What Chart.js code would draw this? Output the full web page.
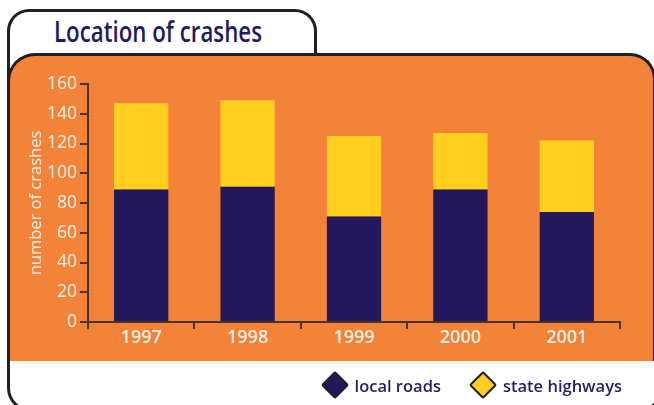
<!DOCTYPE html>
<html>
<head>
<meta charset="utf-8">
<title>Location of crashes</title>
<script src="https://cdn.jsdelivr.net/npm/chart.js@4/dist/chart.umd.min.js"></script>
<style>
html, body { margin: 0; padding: 0; }
body { width: 654px; height: 405px; overflow: hidden; position: relative; background: #fff; font-family: "Open Sans", sans-serif; }
#frame { position: absolute; left: 7px; top: 40px; width: 656px; height: 372px; box-sizing: border-box; border: 3px solid #231f20; border-top: none; border-radius: 0 0 24px 24px; }
#tab { position: absolute; left: 7px; top: 9px; width: 310px; height: 60px; box-sizing: border-box; border: 3px solid #231f20; border-bottom: none; border-radius: 22px 22px 0 0; background: #fff; }
#title { position: absolute; left: 44px; top: 5px; font-size: 28px; line-height: 28px; font-weight: 600; color: #241b5e; white-space: nowrap; transform-origin: 0 0; }
#panel { position: absolute; left: 7px; top: 53px; width: 649px; height: 308px; box-sizing: border-box; background: #f4833a; border: 3px solid #231f20; border-bottom: none; border-radius: 28px 26px 0 0; }
#chartCrashes { position: absolute; left: 0; top: 0; }
#legend { position: absolute; right: 32px; top: 371px; display: flex; align-items: center; }
.legend-item { display: flex; align-items: center; height: 28px; }
.legend-item + .legend-item { margin-left: 28px; }
.legend-mark { width: 28px; height: 28px; position: relative; }
.legend-mark span { position: absolute; left: 4px; top: 4px; width: 20px; height: 20px; box-sizing: border-box; border: 2.5px solid #231f20; border-radius: 2px; transform: rotate(45deg); }
.legend-text { margin-left: 6px; font-size: 16.5px; font-weight: 600; color: #261d62; white-space: nowrap; }
</style>
</head>
<body>
<div id="frame"></div>
<div id="tab"><span id="title">Location of crashes</span></div>
<div id="panel"></div>
<canvas id="chartCrashes" width="654" height="405"></canvas>
<div id="legend"></div>
<script>
var years = ["1997", "1998", "1999", "2000", "2001"];
var localRoads = [89, 91, 71, 89, 74];
var stateHighways = [58, 58, 54, 38, 48];
var seriesNames = ["local roads", "state highways"];
var seriesColors = ["#22185b", "#fecf1f"];
var yMax = 160;
var yStep = 20;

var axisColor = "#4a3328";
var labelColor = "#fdf1e8";

// squeeze the title to the width it has in the print
function fitTitle() {
    var t = document.getElementById("title");
    var w = t.getBoundingClientRect().width;
    t.style.transform = "scaleX(" + (208 / w) + ")";
}

// legend drawn as html, built from the chart's own legend items
var htmlLegendPlugin = {
    id: "htmlLegend",
    afterUpdate: function (chart) {
        var box = document.getElementById("legend");
        box.innerHTML = "";
        var items = chart.options.plugins.legend.labels.generateLabels(chart);
        items.forEach(function (item) {
            var li = document.createElement("div");
            li.className = "legend-item";
            var mark = document.createElement("div");
            mark.className = "legend-mark";
            var dia = document.createElement("span");
            dia.style.background = item.fillStyle;
            mark.appendChild(dia);
            var txt = document.createElement("span");
            txt.className = "legend-text";
            txt.textContent = item.text;
            li.appendChild(mark);
            li.appendChild(txt);
            box.appendChild(li);
        });
    }
};

function drawChart() {
    Chart.defaults.font.family = "'Open Sans', sans-serif";

    var ctx = document.getElementById("chartCrashes");
    var myChart = new Chart(ctx, {
        type: "bar",
        data: {
            labels: years,
            datasets: [{
                label: seriesNames[0],
                data: localRoads,
                backgroundColor: seriesColors[0],
                borderWidth: 0
            }, {
                label: seriesNames[1],
                data: stateHighways,
                backgroundColor: seriesColors[1],
                borderWidth: 0
            }]
        },
        options: {
            responsive: false,
            animation: false,
            devicePixelRatio: 1,
            layout: {
                padding: { left: 0, top: 84, right: 34, bottom: 53 }
            },
            datasets: {
                bar: { categoryPercentage: 1, barPercentage: 0.51 }
            },
            plugins: {
                legend: { display: false },
                tooltip: { enabled: false }
            },
            scales: {
                x: {
                    stacked: true,
                    afterFit: function (scale) { scale.height = 30; },
                    grid: { offset: true, drawOnChartArea: false, tickLength: 7, color: axisColor, lineWidth: 2 },
                    border: { color: axisColor, width: 2 },
                    ticks: { color: labelColor, padding: -2, font: { size: 18, weight: "600" } }
                },
                y: {
                    stacked: true,
                    min: 0,
                    max: yMax,
                    afterFit: function (scale) { scale.width = 88; },
                    grid: { drawOnChartArea: false, tickLength: 8, color: axisColor, lineWidth: 2 },
                    border: { color: axisColor, width: 2 },
                    ticks: { stepSize: yStep, color: labelColor, padding: 3, font: { size: 17.5 } },
                    title: {
                        display: true,
                        text: "number of crashes",
                        color: labelColor,
                        padding: { top: 26, bottom: 0 },
                        font: { size: 16.5, weight: "500" }
                    }
                }
            }
        },
        plugins: [htmlLegendPlugin]
    });
}

fitTitle();
drawChart();
</script>
</body>
</html>
